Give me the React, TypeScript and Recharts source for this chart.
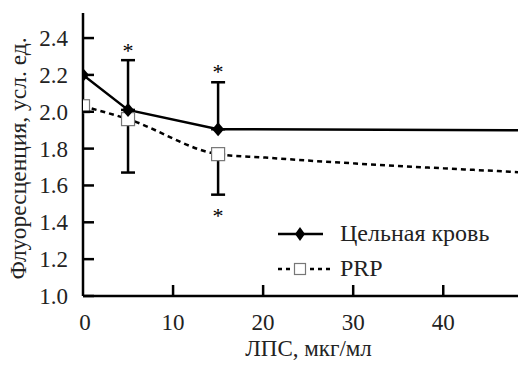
import React from 'react';
import { ComposedChart, Line, Scatter, XAxis, YAxis, ErrorBar } from 'recharts';

// Цельная кровь (whole blood)
const bloodX = [0, 5, 15, 48.3];
const bloodY = [2.2, 2.01, 1.905, 1.9];

// PRP
const prpX = [0, 5, 15, 20, 25, 30, 35, 40, 48.3];
const prpY = [2.03, 1.96, 1.77, 1.752, 1.735, 1.72, 1.705, 1.693, 1.672];

const markerCount = 3;

// error bars: upper from whole blood, lower from PRP
const errX = [5, 15];
const errUpBase = [2.01, 1.905];
const errUp = [0.27, 0.255];
const errDownBase = [1.96, 1.77];
const errDown = [0.29, 0.22];

// significance marks
const starX = [5, 15, 15];
const starY = [2.35, 2.237, 1.456];

const xTicks = [0, 10, 20, 30, 40];
const yTicks = [1.0, 1.2, 1.4, 1.6, 1.8, 2.0, 2.2, 2.4];

const legendNames = ['Цельная кровь', 'PRP'];

const bloodData = bloodX.map((x, i) => ({ x, y: bloodY[i] }));
const prpData = prpX.map((x, i) => ({ x, y: prpY[i] }));
const upData = errX.map((x, i) => ({ x, y: errUpBase[i], e: [0, errUp[i]] }));
const downData = errX.map((x, i) => ({ x, y: errDownBase[i], e: [errDown[i], 0] }));
const starData = starX.map((x, i) => ({ x, y: starY[i] }));

const FONT = '"Liberation Serif"';
const TXT = '#222';

const Diamond = ({ cx, cy, w = 6, h = 7 }: any) => (
  <path d={`M${cx},${cy - h} L${cx + w},${cy} L${cx},${cy + h} L${cx - w},${cy} Z`} fill="#000" />
);

const Square = ({ cx, cy, s = 6.5 }: any) => (
  <rect x={cx - s} y={cy - s} width={2 * s} height={2 * s} fill="#fff" stroke="#777" strokeWidth={1.2} />
);

const YTick = ({ x, y, payload }: any) => (
  <g>
    <line x1={x} x2={x + 11} y1={y} y2={y} stroke="#000" strokeWidth={2.5} />
    <text x={x - 15} y={y + 8} textAnchor="end" fontFamily={FONT} fontSize={23} fill={TXT}>
      {payload.value.toFixed(1)}
    </text>
  </g>
);

const XTick = ({ x, y, payload }: any) => (
  <g>
    {payload.value !== 0 && <line x1={x} x2={x} y1={y} y2={y - 11} stroke="#000" strokeWidth={2.5} />}
    <text x={x + (payload.value === 0 ? 2 : 0)} y={y + 34} textAnchor="middle" fontFamily={FONT} fontSize={23} fill={TXT}>
      {payload.value}
    </text>
  </g>
);

const LegendBox = () => (
  <div style={{ position: 'absolute', left: 278, top: 216, fontFamily: FONT, fontSize: 24, color: TXT, lineHeight: '35px' }}>
    <div style={{ display: 'flex', alignItems: 'center', height: 35 }}>
      <svg width={62} height={20} style={{ flex: 'none' }}>
        <line x1={0} x2={45} y1={10} y2={10} stroke="#000" strokeWidth={2.5} />
        <Diamond cx={22} cy={10} w={5} h={7} />
      </svg>
      <span>{legendNames[0]}</span>
    </div>
    <div style={{ display: 'flex', alignItems: 'center', height: 35 }}>
      <svg width={62} height={20} style={{ flex: 'none' }}>
        <line x1={0} x2={52} y1={10} y2={10} stroke="#000" strokeWidth={2.5} strokeDasharray="4 4" />
        <Square cx={22} cy={10} s={5.5} />
      </svg>
      <span>{legendNames[1]}</span>
    </div>
  </div>
);

export default function App() {
  return (
    <div style={{ position: 'fixed', left: 0, top: 0, width: 518, height: 368, background: '#fff', fontFamily: FONT }}>
      <ComposedChart width={518} height={368} margin={{ top: 13, right: 0, bottom: 0, left: 0 }}>
        <XAxis
          type="number"
          dataKey="x"
          domain={[0, 48.3]}
          ticks={xTicks}
          allowDataOverflow
          stroke="#000"
          strokeWidth={2.5}
          tickLine={false}
          tickSize={0}
          tickMargin={0}
          tick={<XTick />}
          height={72}
          label={{ value: 'ЛПС, мкг/мл', position: 'insideBottom', offset: 12, dx: 8, fontFamily: FONT, fontSize: 23, fill: TXT }}
        />
        <YAxis
          type="number"
          dataKey="y"
          domain={[1.0, 2.536]}
          ticks={yTicks}
          allowDataOverflow
          stroke="#000"
          strokeWidth={2.5}
          tickLine={false}
          tickSize={0}
          tickMargin={0}
          tick={<YTick />}
          width={83}
          label={{ value: 'Флуоресценция, усл. ед.', angle: -90, position: 'insideLeft', dx: 13, dy: 125, fontFamily: FONT, fontSize: 23.5, fill: TXT }}
        />
        <Scatter data={upData} dataKey="y" shape={() => <g />} isAnimationActive={false} legendType="none">
          <ErrorBar dataKey="e" direction="y" width={7} stroke="#000" strokeWidth={2.5} />
        </Scatter>
        <Scatter data={downData} dataKey="y" shape={() => <g />} isAnimationActive={false} legendType="none">
          <ErrorBar dataKey="e" direction="y" width={7} stroke="#000" strokeWidth={2.5} />
        </Scatter>
        <Line
          data={prpData}
          dataKey="y"
          type="monotone"
          stroke="#000"
          strokeWidth={2.5}
          strokeDasharray="5 4"
          dot={(p: any) => (p.index < markerCount ? <Square key={p.index} cx={p.cx} cy={p.cy} /> : <g key={p.index} />)}
          activeDot={false}
          isAnimationActive={false}
        />
        <Line
          data={bloodData}
          dataKey="y"
          type="linear"
          stroke="#000"
          strokeWidth={2.5}
          dot={(p: any) => (p.index < markerCount ? <Diamond key={p.index} cx={p.cx} cy={p.cy} /> : <g key={p.index} />)}
          activeDot={false}
          isAnimationActive={false}
        />
        <Scatter
          data={starData}
          dataKey="y"
          isAnimationActive={false}
          legendType="none"
          shape={(p: any) => (
            <text x={p.cx} y={p.cy + 11} textAnchor="middle" fontFamily={FONT} fontSize={22} fill="#000">
              *
            </text>
          )}
        />
      </ComposedChart>
      <LegendBox />
    </div>
  );
}
